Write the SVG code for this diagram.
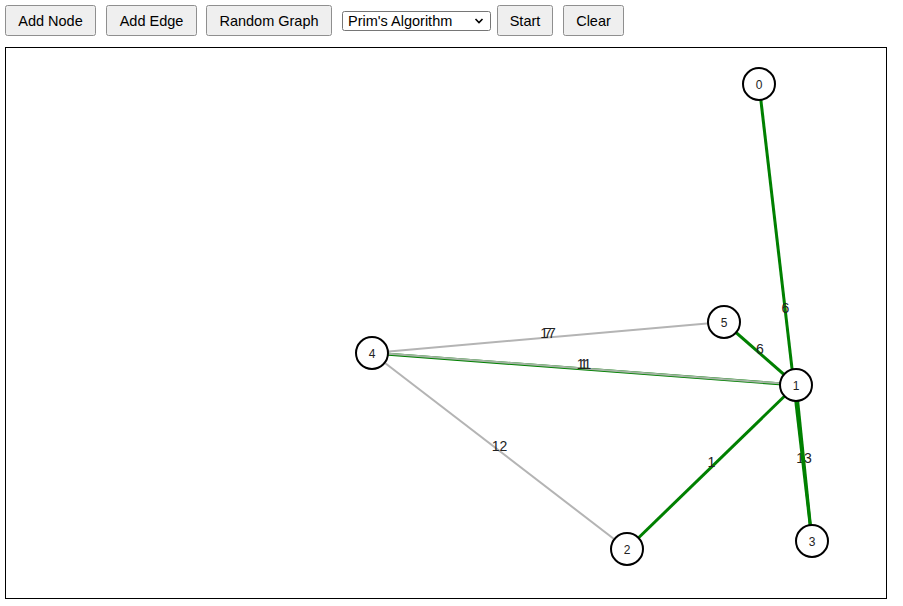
<svg xmlns="http://www.w3.org/2000/svg" width="903" height="606" viewBox="0 0 903 606">
<style>
.btn{fill:#efefef;stroke:#8f8f8f;stroke-width:1}
.bt{font-family:"Liberation Sans",Arial,sans-serif;font-size:14.5px;fill:#000;text-anchor:middle}
.gray{stroke:#b4b4b4;stroke-width:2;fill:none}
.green{stroke:#008000;stroke-width:3;fill:none}
.el{font-family:"Liberation Sans",Arial,sans-serif;font-size:14px;fill:#222;text-anchor:middle}
.node circle{fill:#fff;stroke:#000;stroke-width:2}
.node text{font-family:"Liberation Sans",Arial,sans-serif;font-size:12px;fill:#222;text-anchor:middle}
</style>
<rect width="903" height="606" fill="#fff"/>
<g id="toolbar">
<rect class="btn" x="5.5" y="5.5" width="90" height="30" rx="2"/>
<text class="bt" x="50.5" y="25.5">Add Node</text>
<rect class="btn" x="106.5" y="5.5" width="90" height="30" rx="2"/>
<text class="bt" x="151.5" y="25.5">Add Edge</text>
<rect class="btn" x="206.5" y="5.5" width="125" height="30" rx="2"/>
<text class="bt" x="269" y="25.5">Random Graph</text>
<rect x="342.5" y="11.5" width="148" height="19" rx="2" fill="#fff" stroke="#767676"/>
<text x="348" y="25.5" font-family="Liberation Sans,Arial,sans-serif" font-size="14.5" fill="#000">Prim's Algorithm</text>
<path d="M475.5 19 l3.5 3.5 l3.5 -3.5" fill="none" stroke="#000" stroke-width="1.6"/>
<rect class="btn" x="497.5" y="5.5" width="55" height="30" rx="2"/>
<text class="bt" x="525" y="25.5">Start</text>
<rect class="btn" x="563.5" y="5.5" width="60" height="30" rx="2"/>
<text class="bt" x="593.5" y="25.5">Clear</text>
</g>
<rect id="canvas" x="5.5" y="47.5" width="881" height="551" fill="#fff" stroke="#000" stroke-width="1"/>
<g id="connectors">
<line class="gray" x1="372" y1="353" x2="724" y2="322"/>
<text class="el" x="548" y="337.5">17</text>
<text class="el" x="548" y="337.5">7</text>
<line class="gray" x1="372" y1="353" x2="627" y2="549"/>
<text class="el" x="499.5" y="451">12</text>
<line class="green" x1="372" y1="353" x2="796" y2="385"/>
<line stroke="#a4b4a4" stroke-width="2" x1="372" y1="352.6" x2="796" y2="384.6"/>
<text class="el" x="584" y="369">11</text>
<text class="el" x="584" y="369">1</text>
<line class="green" x1="724" y1="322" x2="796" y2="385"/>
<text class="el" x="760" y="353.5">6</text>
<line class="green" x1="627" y1="549" x2="796" y2="385"/>
<text class="el" x="711.5" y="467">1</text>
<text class="el" x="804" y="463">13</text>
<line class="green" x1="796" y1="385" x2="812" y2="541"/>
<line class="green" x1="759" y1="84" x2="812" y2="541"/>
<text class="el" x="785.5" y="312.5">6</text>
</g>
<g id="node0" class="node"><circle cx="759" cy="84" r="16"/><text x="759" y="88.5">0</text></g>
<g id="node1" class="node"><circle cx="796" cy="385" r="16"/><text x="796" y="389.5">1</text></g>
<g id="node2" class="node"><circle cx="627" cy="549" r="16"/><text x="627" y="553.5">2</text></g>
<g id="node3" class="node"><circle cx="812" cy="541" r="16"/><text x="812" y="545.5">3</text></g>
<g id="node4" class="node"><circle cx="372" cy="353" r="16"/><text x="372" y="357.5">4</text></g>
<g id="node5" class="node"><circle cx="724" cy="322" r="16"/><text x="724" y="326.5">5</text></g>
</svg>
